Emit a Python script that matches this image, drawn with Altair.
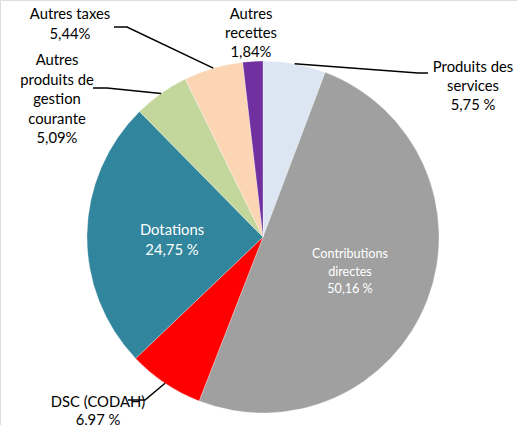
import altair as alt
import pandas as pd
import numpy as np

categories = ["Produits des services", "Contributions directes", "DSC (CODAH)", "Dotations",
              "Autres produits de gestion courante", "Autres taxes", "Autres recettes"]
values = [5.75, 50.16, 6.97, 24.75, 5.09, 5.44, 1.84]
value_labels = ["5,75 %", "50,16 %", "6,97 %", "24,75 %", "5,09%", "5,44%", "1,84%"]
label_texts = ["Produits des\nservices", "Contributions\ndirectes", "DSC (CODAH)", "Dotations",
               "Autres\nproduits de\ngestion\ncourante", "Autres taxes", "Autres\nrecettes"]
colors = ["#DCE6F2", "#A0A0A0", "#FF0000", "#31859C", "#C3D69B", "#FCD5B5", "#7030A0"]

# layout
CX, CY, R = 263, 237, 176
W, H = 517, 425

df = pd.DataFrame({"cat": categories, "value": values, "order": range(len(values))})

xs = alt.Scale(domain=[0, W], range=[0, W])
ys = alt.Scale(domain=[0, H], range=[0, H])

pie = alt.Chart(df).mark_arc(outerRadius=R, stroke="white", strokeWidth=0.3).encode(
    theta=alt.Theta("value:Q", stack=True),
    order=alt.Order("order:Q"),
    color=alt.Color("cat:N", scale=alt.Scale(domain=categories, range=colors), legend=None),
    x=alt.value(CX), y=alt.value(CY),
)

# label placement (layout)
label_pos = {
    "Produits des services": (473, 60, "black", 14.8, 19),
    "Contributions directes": (350, 248, "white", 12.6, 17.5),
    "DSC (CODAH)": (98, 395, "black", 14.8, 18),
    "Dotations": (172, 223, "white", 14.8, 20),
    "Autres produits de gestion courante": (57, 53, "black", 14.8, 19.5),
    "Autres taxes": (70, 7, "black", 14.8, 20),
    "Autres recettes": (251, 7, "black", 14.8, 19),
}
rows = []
for c, t, v in zip(categories, label_texts, value_labels):
    x, y, col, fs, lh = label_pos[c]
    rows.append({"cat": c, "text": t + "\n" + v, "x": x, "y": y, "col": col, "fs": fs, "lh": lh})
ldf = pd.DataFrame(rows)

texts = []
for (col, fs, lh), g in ldf.groupby(["col", "fs", "lh"]):
    texts.append(
        alt.Chart(g).mark_text(lineBreak="\n", align="center", baseline="top", font="Lato",
                               fontSize=fs, lineHeight=lh, color=col).encode(
            x=alt.X("x:Q", scale=xs, axis=None),
            y=alt.Y("y:Q", scale=ys, axis=None),
            text="text:N",
        )
    )

# leader lines: start at the slice edge (from the data), then to label elbow
cum = np.cumsum([0] + values)
mid = {c: (cum[i] + values[i] / 2) / 100 * 2 * np.pi for i, c in enumerate(categories)}
elbows = {
    "Produits des services": [(418, 73), (428, 73)],
    "Autres taxes": [(127, 27), (114, 27)],
    "Autres produits de gestion courante": [(107, 88), (93, 88)],
    "DSC (CODAH)": [(145, 400), (128, 400)],
}
lrows = []
for c, pts in elbows.items():
    a = mid[c]
    sx, sy = CX + R * np.sin(a), CY - R * np.cos(a)
    seq = [(sx, sy)] + pts
    for k, (px, py) in enumerate(seq):
        lrows.append({"cat": c, "k": k, "x": px, "y": py})
lines = alt.Chart(pd.DataFrame(lrows)).mark_line(color="black", strokeWidth=1.5).encode(
    x=alt.X("x:Q", scale=xs, axis=None),
    y=alt.Y("y:Q", scale=ys, axis=None),
    detail="cat:N",
    order="k:Q",
)

chart = alt.layer(pie, lines, *texts).properties(
    width=W, height=H, autosize=alt.AutoSizeParams(type="none"), padding=0
).configure_view(stroke=None).configure(background="white")

chart.save("out.html", embed_options={"renderer": "svg", "actions": False})
